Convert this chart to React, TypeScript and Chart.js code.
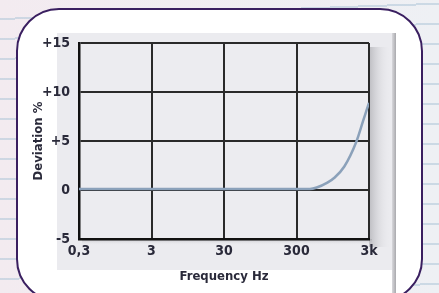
import React, { useEffect, useRef } from "react";
import { Chart, registerables } from "chart.js";

Chart.register(...registerables);

const frequencies = [0.3, 3, 30, 300, 460, 570, 800, 1000, 1370, 2000, 2500, 3000];
const deviations = [0.1, 0.1, 0.1, 0.1, 0.1, 0.25, 0.75, 1.25, 2.4, 4.9, 7.1, 8.9];
const xTickValues = [0.3, 3, 30, 300, 3000];
const xTickLabels = ["0,3", "3", "30", "300", "3k"];
const yTickValues = [15, 10, 5, 0, -5];
const yTickLabels = ["+15", "+10", "+5", "0", "-5"];

const FONT = "'Liberation Sans Narrow', 'DejaVu Sans Condensed', sans-serif";
const TEXT = "#2a2a3a";

const panelPlugin = {
  id: "panel",
  beforeDraw(chart: any) {
    const { ctx, chartArea } = chart;
    const { left, top, right, bottom } = chartArea;
    ctx.save();
    ctx.fillStyle = "#ebebef";
    ctx.fillRect(left - 22, top - 10, right - left + 45, bottom - top + 41);
    const g = ctx.createLinearGradient(right, 0, right + 22, 0);
    g.addColorStop(0, "rgba(150,150,155,0.55)");
    g.addColorStop(1, "rgba(235,235,239,0)");
    ctx.fillStyle = g;
    ctx.fillRect(right, top + 4, 22, bottom - top + 4);
    const gb = ctx.createLinearGradient(0, bottom, 0, bottom + 6);
    gb.addColorStop(0, "rgba(150,150,155,0.5)");
    gb.addColorStop(1, "rgba(235,235,239,0)");
    ctx.fillStyle = gb;
    ctx.fillRect(left + 3, bottom, right - left, 6);
    const gs = ctx.createLinearGradient(right + 23, 0, right + 27, 0);
    gs.addColorStop(0, "#d8d8dc");
    gs.addColorStop(1, "#a9a9ad");
    ctx.fillStyle = gs;
    ctx.fillRect(right + 23, top - 10, 4, chart.height - top + 10);
    ctx.fillStyle = "#ececf0";
    ctx.fillRect(left, top, right - left, bottom - top);
    ctx.restore();
  },
};

export default function App() {
  const ref = useRef<HTMLCanvasElement>(null);
  useEffect(() => {
    document.body.style.margin = "0";
    const chart = new Chart(ref.current!, {
      type: "line",
      data: {
        datasets: [
          {
            data: frequencies.map((f, i) => ({ x: f, y: deviations[i] })),
            borderColor: "#8ba1ba",
            borderWidth: 2.5,
            pointRadius: 0,
            cubicInterpolationMode: "monotone",
            fill: false,
          },
        ],
      },
      options: {
        animation: false,
        responsive: false,
        maintainAspectRatio: false,
        layout: { padding: { top: 43, right: 70, left: 28, bottom: 0 } },
        plugins: { legend: { display: false }, tooltip: { enabled: false } },
        scales: {
          x: {
            type: "logarithmic",
            min: 0.3,
            max: 3000,
            afterBuildTicks: (scale: any) => {
              scale.ticks = xTickValues.map((v) => ({ value: v }));
            },
            afterFit: (scale: any) => {
              scale.height = 54;
            },
            ticks: {
              autoSkip: false,
              maxRotation: 0,
              padding: 4,
              color: TEXT,
              font: { family: FONT, size: 14, weight: "bold" },
              callback: (v: any) => {
                const i = xTickValues.findIndex((t) => Math.abs(t - Number(v)) < 1e-6 * Math.max(1, t));
                return i >= 0 ? xTickLabels[i] : "";
              },
            },
            grid: { color: "#2a2a2a", lineWidth: 2, drawTicks: false },
            border: { color: "#111", width: 2.5 },
            title: {
              display: true,
              text: "Frequency Hz",
              color: TEXT,
              font: { family: FONT, size: 13, weight: "bold" },
              padding: { top: 0, bottom: 9 },
            },
          },
          y: {
            type: "linear",
            min: -5,
            max: 15,
            afterBuildTicks: (scale: any) => {
              scale.ticks = yTickValues.map((v) => ({ value: v }));
            },
            afterFit: (scale: any) => {
              scale.width = 51;
            },
            ticks: {
              padding: 9,
              color: TEXT,
              font: { family: FONT, size: 14, weight: "bold" },
              callback: (v: any) => {
                const i = yTickValues.indexOf(Number(v));
                return i >= 0 ? yTickLabels[i] : "";
              },
            },
            grid: { color: "#2a2a2a", lineWidth: 2, drawTicks: false },
            border: { color: "#111", width: 2.5 },
            title: {
              display: true,
              text: "Deviation %",
              color: TEXT,
              font: { family: FONT, size: 13, weight: "bold" },
              padding: { top: 3, bottom: 0 },
            },
          },
        },
      },
      plugins: [panelPlugin],
    } as any);
    return () => chart.destroy();
  }, []);

  return (
    <div
      style={{
        position: "fixed",
        left: 0,
        top: 0,
        width: 439,
        height: 293,
        overflow: "hidden",
        background:
          "repeating-linear-gradient(178deg, rgba(0,0,0,0) 0px, rgba(0,0,0,0) 18px, rgba(175,198,216,0.55) 18px, rgba(175,198,216,0.55) 20px), linear-gradient(90deg, #f3ebf0, #eef0f4)",
      }}
    >
      <div
        style={{
          position: "absolute",
          left: 16,
          top: 8,
          width: 407,
          height: 294,
          boxSizing: "border-box",
          border: "2px solid #3a1f60",
          borderRadius: 43,
          background: "#ffffff",
        }}
      />
      <canvas
        ref={ref}
        width={439}
        height={293}
        style={{ position: "absolute", left: 0, top: 0, width: 439, height: 293 }}
      />
    </div>
  );
}
